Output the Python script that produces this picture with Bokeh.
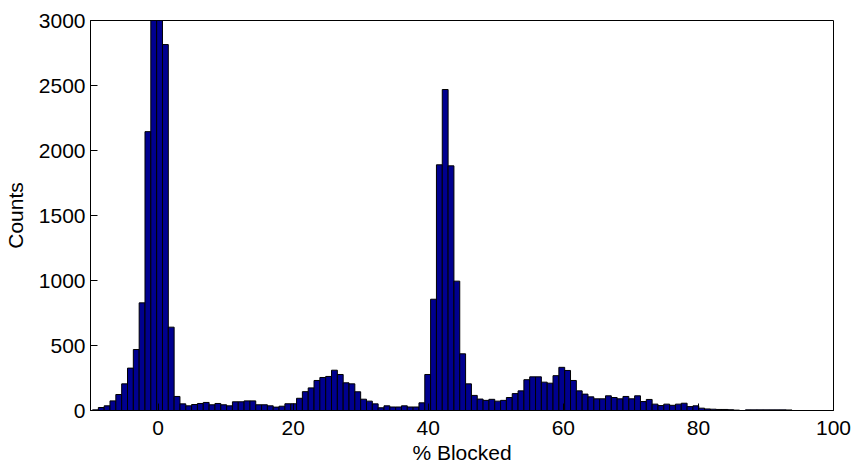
import numpy as np
from bokeh.plotting import figure
from bokeh.models import Range1d, FixedTicker
from bokeh.embed import file_html
from bokeh.resources import INLINE

# Histogram counts (120 bins)
counts = [
    5, 23, 36, 74, 123, 205, 326, 469, 828, 2145,
    3300, 3200, 2815, 641, 108, 51, 36, 46, 54, 62,
    44, 54, 44, 36, 67, 67, 74, 74, 44, 44,
    36, 26, 33, 52, 52, 94, 145, 174, 231, 254,
    262, 310, 277, 213, 205, 144, 87, 72, 51, 21,
    36, 27, 27, 36, 27, 27, 59, 277, 856, 1890,
    2469, 1882, 995, 436, 205, 116, 88, 78, 86, 72,
    78, 100, 130, 151, 237, 259, 259, 218, 210, 268,
    332, 308, 231, 151, 126, 105, 90, 90, 113, 100,
    90, 108, 90, 113, 69, 85, 49, 38, 49, 40,
    49, 56, 30, 36, 18, 12, 10, 8, 8, 6,
    3, 0, 5, 5, 5, 5, 5, 5, 5, 4,
]
BIN_LO = -9.70
BIN_HI = 93.86
x_ticks = [0, 20, 40, 60, 80, 100]
y_ticks = [0, 500, 1000, 1500, 2000, 2500, 3000]
X_LO, X_HI = -10, 100

edges = np.linspace(BIN_LO, BIN_HI, len(counts) + 1)
centers = (edges[:-1] + edges[1:]) / 2
bin_w = edges[1] - edges[0]

FONT = "Liberation Sans"
FS = "21px"

p = figure(width=852, height=471, output_backend="svg", toolbar_location=None,
           x_range=Range1d(X_LO, X_HI), y_range=Range1d(0, 3000),
           min_border_left=90, min_border_right=19, min_border_top=20,
           min_border_bottom=61, background_fill_color="white",
           border_fill_color="white")

p.vbar(x=centers, top=counts, width=bin_w, bottom=0,
       fill_color="#00008F", line_color="black", line_width=1)

p.grid.visible = False
p.outline_line_color = "black"
p.outline_line_width = 1

p.xaxis.ticker = FixedTicker(ticks=x_ticks)
p.yaxis.ticker = FixedTicker(ticks=y_ticks)
for ax in (p.xaxis[0], p.yaxis[0]):
    ax.major_tick_in = 7
    ax.major_tick_out = 0
    ax.minor_tick_line_color = None
    ax.axis_line_color = "black"
    ax.major_tick_line_color = "black"
    ax.major_label_text_font = FONT
    ax.major_label_text_font_size = FS
    ax.major_label_text_color = "black"
    ax.axis_label_text_font = FONT
    ax.axis_label_text_font_size = FS
    ax.axis_label_text_font_style = "normal"
    ax.axis_label_text_color = "black"

p.xaxis.axis_label = "% Blocked"
p.yaxis.axis_label = "Counts"
p.xaxis.major_label_standoff = 10
p.xaxis.axis_label_standoff = 3
p.yaxis.major_label_standoff = 5
p.yaxis.axis_label_standoff = 9

open("out.html", "w").write(file_html(p, INLINE))
